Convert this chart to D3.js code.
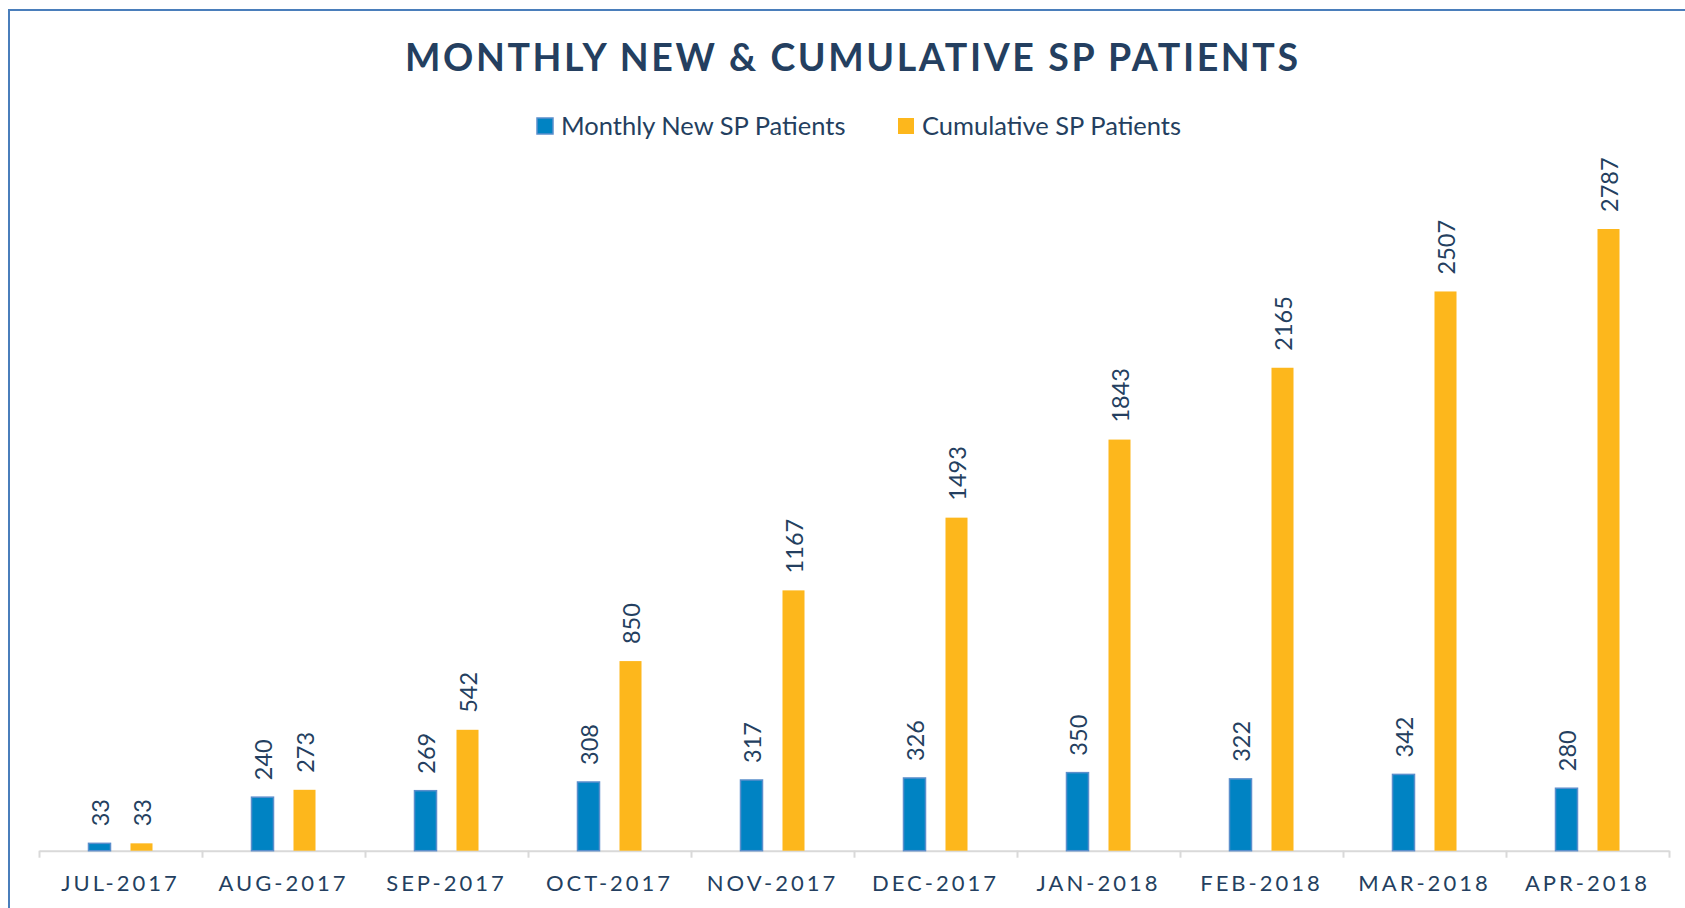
<!DOCTYPE html>
<html>
<head>
<meta charset="utf-8">
<script src="https://cdn.jsdelivr.net/npm/d3@7"></script>
<style>
  html, body { margin: 0; padding: 0; background: #ffffff; }
  svg { display: block; }
  text { font-family: Lato, "Open Sans", sans-serif; }
</style>
</head>
<body>
<svg id="chart" width="1685" height="908"></svg>
<script>
const categories = ["JUL-2017","AUG-2017","SEP-2017","OCT-2017","NOV-2017","DEC-2017","JAN-2018","FEB-2018","MAR-2018","APR-2018"];
const monthlyNew = [33, 240, 269, 308, 317, 326, 350, 322, 342, 280];
const cumulative = [33, 273, 542, 850, 1167, 1493, 1843, 2165, 2507, 2787];
const seriesNames = ["Monthly New SP Patients", "Cumulative SP Patients"];
const seriesKeys = ["new", "cum"];
const yMax = 3000;

const colors = { new: "#0083c3", cum: "#fdb71c" };
const strokeColors = { new: "#5b8fcc", cum: "none" };
const textColor = "#243f60";

const svg = d3.select("#chart");

// outer chart border (only left and top visible)
svg.append("rect")
  .attr("x", 9).attr("y", 10)
  .attr("width", 1800).attr("height", 1000)
  .attr("fill", "none").attr("stroke", "#4a7ebb").attr("stroke-width", 2);

// title
svg.append("text")
  .attr("x", 851.5).attr("y", 71)
  .attr("text-anchor", "middle")
  .attr("font-size", 37.5)
  .attr("font-weight", 700)
  .attr("fill", textColor)
  .attr("textLength", 893)
  .attr("lengthAdjust", "spacing")
  .text("MONTHLY NEW & CUMULATIVE SP PATIENTS");

// legend
const legendItems = [
  { key: "new", name: seriesNames[0], x: 537 },
  { key: "cum", name: seriesNames[1], x: 898 }
];
const lg = svg.append("g");
legendItems.forEach(it => {
  lg.append("rect")
    .attr("x", it.x).attr("y", 118)
    .attr("width", 16).attr("height", 16)
    .attr("fill", colors[it.key])
    .attr("stroke", it.key === "new" ? strokeColors.new : "none")
    .attr("stroke-width", 1.5);
  lg.append("text")
    .attr("x", it.x + 24).attr("y", 134.5)
    .attr("font-size", 25.5)
    .attr("fill", textColor)
    .text(it.name);
});

// scales
const plotLeft = 39, plotRight = 1669, baseY = 850.7;
const x0 = d3.scaleBand().domain(categories).range([plotLeft, plotRight]).paddingInner(0).paddingOuter(0);
const c = x0.bandwidth() / 2;
const x1 = d3.scaleBand().domain(seriesKeys).range([c - 42, c + 42]).paddingInner(0.476).paddingOuter(0.238);
const y = d3.scaleLinear().domain([0, yMax]).range([baseY, baseY - yMax * 0.22307]);

const data = categories.map((cat, i) => ({ cat, new: monthlyNew[i], cum: cumulative[i] }));

// axis ticks between categories
const xEdges = d3.scaleLinear().domain([0, categories.length]).range([plotLeft, plotRight]);
const tickAxis = svg.append("g")
  .attr("transform", `translate(0,${baseY})`)
  .call(d3.axisBottom(xEdges).tickValues(d3.range(categories.length + 1)).tickFormat("").tickSize(7).tickSizeOuter(0));
tickAxis.selectAll("path.domain").attr("stroke", "#d9d9d9").attr("stroke-width", 2);
tickAxis.selectAll(".tick line").attr("stroke", "#d9d9d9").attr("stroke-width", 2);

// category labels
const labAxis = svg.append("g")
  .attr("transform", `translate(0,${baseY})`)
  .call(d3.axisBottom(x0).tickSize(0).tickPadding(0));
labAxis.select("path.domain").remove();
labAxis.selectAll(".tick text")
  .attr("y", 40)
  .attr("dy", 0)
  .attr("font-size", 22)
  .attr("font-family", "Lato, 'Open Sans', sans-serif")
  .attr("fill", textColor)
  .style("letter-spacing", "3px");

// bars
const groups = svg.append("g").selectAll("g")
  .data(data).join("g")
  .attr("transform", d => `translate(${x0(d.cat)},0)`);

groups.selectAll("rect")
  .data(d => seriesKeys.map(k => ({ key: k, value: d[k] })))
  .join("rect")
  .attr("x", d => x1(d.key))
  .attr("y", d => y(d.value))
  .attr("width", x1.bandwidth())
  .attr("height", d => baseY - y(d.value))
  .attr("fill", d => colors[d.key])
  .attr("stroke", d => strokeColors[d.key])
  .attr("stroke-width", 1.5);

// data labels (rotated)
groups.selectAll("text.val")
  .data(d => seriesKeys.map(k => ({ key: k, value: d[k] })))
  .join("text")
  .attr("class", "val")
  .attr("transform", d => `translate(${x1(d.key) + x1.bandwidth() / 2 + 1},${y(d.value) - 17}) rotate(-90)`)
  .attr("dy", "0.36em")
  .attr("font-size", 23.5)
  .attr("fill", textColor)
  .text(d => d.value);
</script>
</body>
</html>
